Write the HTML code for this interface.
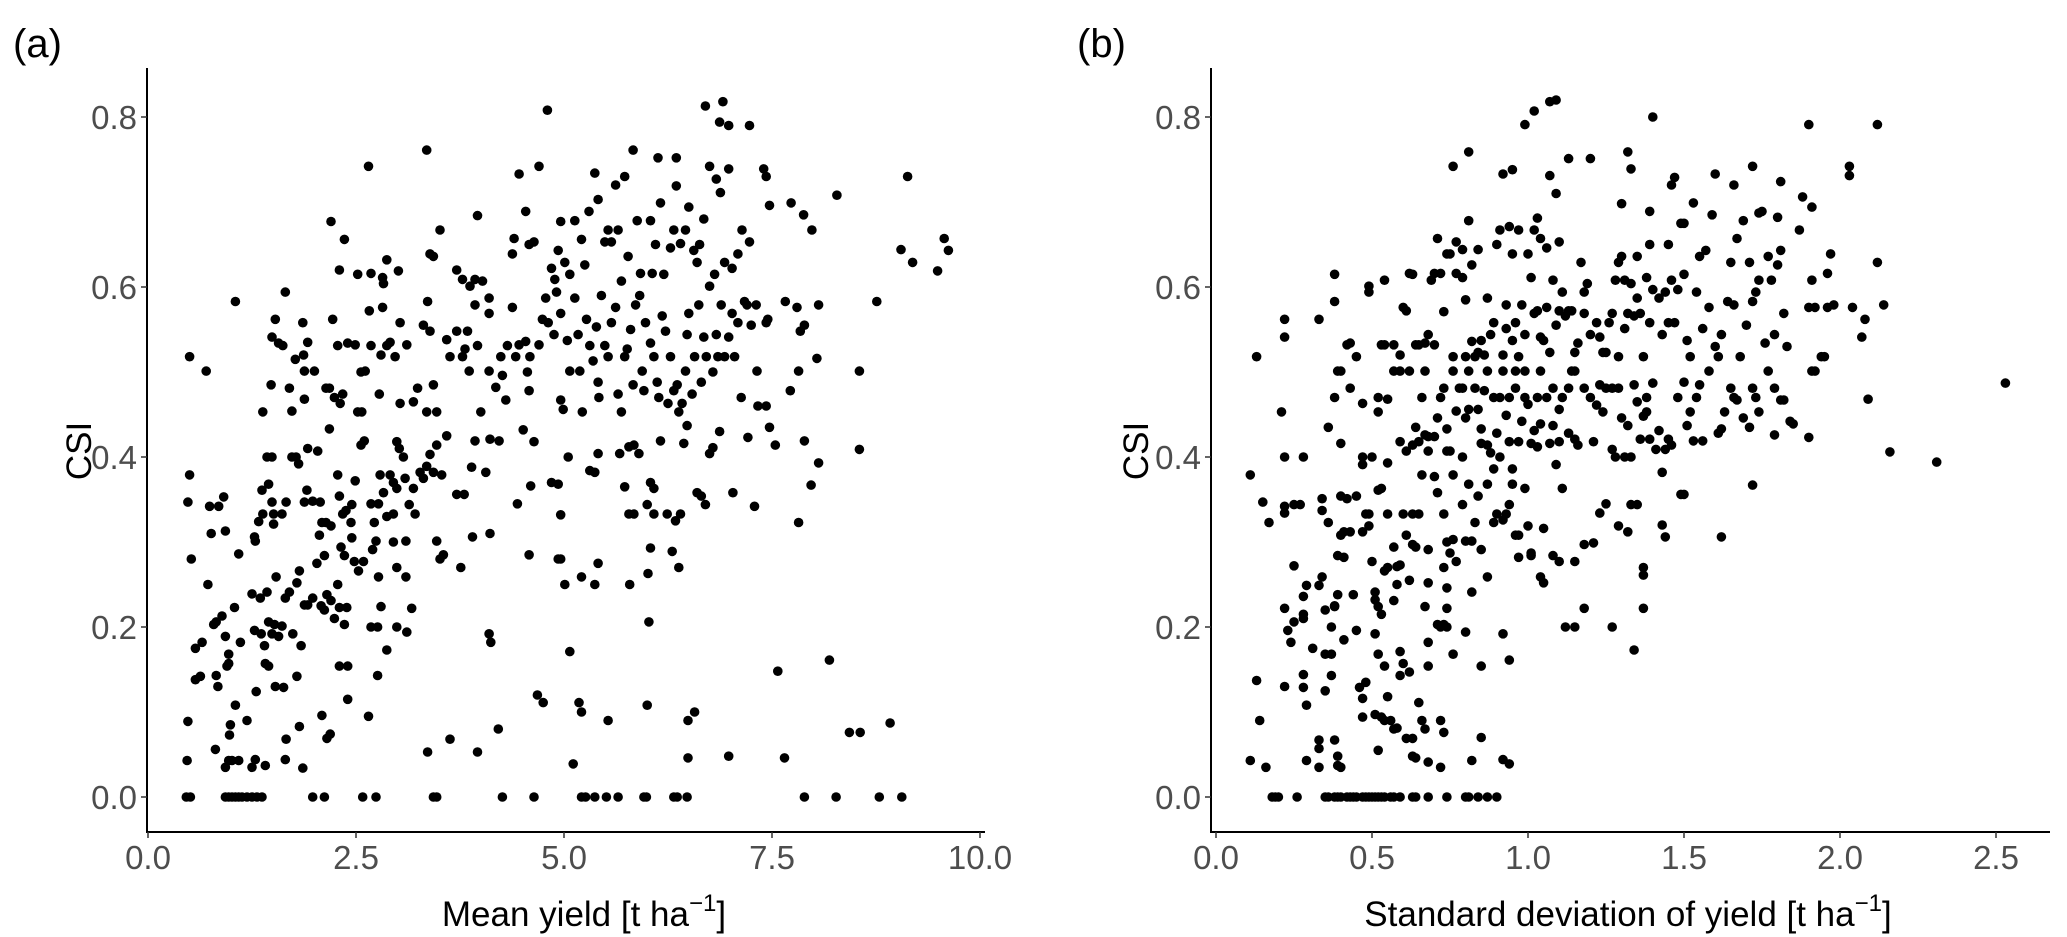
<!DOCTYPE html>
<html><head><meta charset="utf-8"><style>
html,body{margin:0;padding:0;background:#fff;}
svg{display:block;font-family:"Liberation Sans",Arial,sans-serif;}
.tick{fill:#4d4d4d;font-size:33px;}
.ttl{fill:#000;font-size:35px;}
</style></head><body>
<svg id="fig" width="2067" height="937" viewBox="0 0 2067 937" xmlns="http://www.w3.org/2000/svg"></svg>
<script>
const yTicks=[0,0.2,0.4,0.6,0.8];
const yTickLabels=["0.0","0.2","0.4","0.6","0.8"];
const aXTicks=[0,2.5,5,7.5,10];
const aXTickLabels=["0.0","2.5","5.0","7.5","10.0"];
const bXTicks=[0,0.5,1,1.5,2,2.5];
const bXTickLabels=["0.0","0.5","1.0","1.5","2.0","2.5"];
const aX=[0.46,0.51,0.93,0.97,1.01,1.05,1.09,1.13,1.19,1.25,1.31,1.37,1.98,2.12,2.58,2.74,3.43,3.47,4.26,4.64,5.21,5.26,5.37,5.51,5.65,5.96,5.99,6.32,6.36,6.48,7.89,8.27,8.79,9.06,
0.47,0.48,0.81,0.98,0.99,1.05,0.93,0.97,1.01,1.09,1.19,1.25,1.29,1.41,1.66,1.65,1.82,1.86,2.09,2.15,2.19,2.40,2.65,3.36,3.63,3.96,4.21,4.68,4.75,5.11,5.18,5.21,5.53,6.0,6.49,6.57,6.49,6.98,7.65,7.57,8.19,8.43,8.56,8.92,0.57,0.63,0.82,0.84,0.95,1.30,1.41,1.45,1.53,1.63,1.79,2.30,2.40,2.76,
0.52,0.57,0.65,0.72,0.79,0.82,0.89,0.93,0.97,0.97,1.04,1.09,1.11,1.25,1.28,1.35,1.36,1.40,1.43,1.45,1.49,1.52,1.54,1.57,1.61,1.65,1.70,1.74,1.79,1.82,1.84,1.88,1.92,1.98,2.03,2.08,2.12,2.15,2.20,2.24,2.30,2.36,2.39,2.32,2.28,2.36,2.48,2.53,2.59,2.45,2.70,2.80,2.87,2.76,2.68,2.99,3.11,3.17,3.10,2.99,3.10,2.95,2.77,2.74,3.47,3.51,3.76,3.90,4.11,4.10,4.12,4.58,4.96,5.01,5.07,5.21,5.37,5.41,5.79,6.01,6.04,6.02,6.30,6.38,4.93,3.55,
0.50,0.48,0.76,0.74,0.85,0.91,0.93,1.28,1.29,1.33,1.38,1.37,1.45,1.49,1.43,1.49,1.51,1.51,1.61,1.66,1.73,1.78,1.81,1.88,1.91,1.92,1.98,2.04,2.07,2.09,2.14,2.20,2.12,2.06,2.28,2.30,2.34,2.38,2.44,2.45,2.49,2.56,2.60,2.68,2.72,2.77,2.79,2.83,2.87,2.91,2.95,2.99,3.02,3.07,2.95,2.99,3.09,3.14,3.19,3.21,3.27,3.31,3.35,3.39,3.43,3.47,3.53,3.59,3.71,3.80,3.89,3.93,4.06,4.11,4.22,4.44,4.51,4.60,4.64,4.85,4.93,4.96,5.05,5.31,5.37,5.41,5.67,5.73,5.78,5.84,6.0,6.04,6.08,6.08,6.24,6.34,6.40,6.60,6.65,6.70,6.75,6.79,7.03,7.29,7.82,7.89,7.97,8.06,8.55,7.54,7.21,7.47,6.87,5.78,5.84,5.90,6.16,6.44,6.48,
0.50,0.70,1.05,1.38,1.48,1.49,1.53,1.57,1.62,1.65,1.70,1.73,1.77,1.87,1.86,1.88,1.92,1.88,2.0,2.14,2.18,2.18,2.22,2.24,2.28,2.31,2.34,2.40,2.49,2.52,2.56,2.57,2.61,2.66,2.68,2.78,2.80,2.82,2.87,2.91,2.97,3.03,3.03,3.11,3.19,3.24,3.31,3.36,3.35,3.39,3.43,3.47,3.59,3.63,3.71,3.78,3.81,3.84,3.86,3.93,3.96,4.00,4.10,4.10,4.18,4.24,4.26,4.30,4.32,4.38,4.42,4.46,4.54,4.56,4.58,4.59,4.70,4.74,4.78,4.81,4.88,4.91,4.96,4.96,4.99,5.04,5.07,5.13,5.17,5.19,5.22,5.27,5.31,5.35,5.39,5.41,5.42,5.49,5.53,5.57,5.62,5.65,5.69,5.73,5.76,5.80,5.83,5.86,5.91,5.94,5.96,5.98,6.04,6.08,6.12,6.14,6.18,6.22,6.25,6.28,6.32,6.36,6.38,6.42,6.46,6.48,6.50,6.54,6.57,6.62,6.65,6.68,6.71,6.75,6.79,6.83,6.85,6.89,6.93,6.98,7.02,7.05,7.09,7.13,7.17,7.20,7.25,7.31,7.32,7.33,7.43,7.45,7.43,7.66,7.72,7.80,7.84,7.89,7.82,8.04,8.06,8.55,8.76,
2.52,2.65,2.20,2.30,2.36,2.68,2.82,2.83,2.87,3.01,3.35,3.39,3.43,3.51,3.71,3.78,3.87,3.93,3.96,4.02,4.10,4.38,4.40,4.46,4.54,4.58,4.64,4.70,4.80,4.85,4.89,4.93,4.96,5.01,5.07,5.13,5.21,5.25,5.30,5.37,5.41,5.45,5.49,5.53,5.57,5.62,5.65,5.69,5.73,5.77,5.83,5.88,5.92,6.04,6.06,6.10,6.13,6.16,6.20,6.28,6.32,6.35,6.35,6.40,6.46,6.50,6.56,6.60,6.63,6.68,6.70,6.75,6.81,6.83,6.87,6.88,6.91,6.93,6.98,6.98,7.02,7.09,7.14,7.23,7.23,7.40,7.43,7.47,7.73,7.88,7.98,8.28,9.05,9.13,9.19,9.49,9.57,9.62];
const aY=[0,0,0,0,0,0,0,0,0,0,0,0,0,0,0,0,0,0,0,0,0,0,0,0,0,0,0,0,0,0,0,0,0,0,
0.043,0.089,0.056,0.073,0.085,0.108,0.035,0.043,0.043,0.043,0.09,0.035,0.044,0.037,0.068,0.044,0.083,0.034,0.096,0.069,0.074,0.115,0.095,0.053,0.068,0.053,0.08,0.12,0.111,0.039,0.111,0.1,0.09,0.108,0.09,0.1,0.046,0.048,0.046,0.148,0.161,0.076,0.076,0.087,0.138,0.142,0.143,0.13,0.154,0.124,0.157,0.154,0.13,0.129,0.142,0.154,0.154,0.143,
0.28,0.175,0.182,0.25,0.203,0.206,0.213,0.189,0.168,0.157,0.223,0.286,0.182,0.239,0.196,0.234,0.192,0.178,0.241,0.206,0.192,0.203,0.259,0.189,0.201,0.234,0.241,0.192,0.252,0.266,0.178,0.226,0.226,0.234,0.275,0.225,0.22,0.238,0.231,0.21,0.223,0.203,0.223,0.294,0.25,0.284,0.277,0.266,0.277,0.305,0.291,0.224,0.173,0.2,0.2,0.2,0.194,0.222,0.259,0.27,0.301,0.3,0.259,0.301,0.301,0.28,0.27,0.306,0.31,0.192,0.182,0.285,0.28,0.25,0.171,0.259,0.25,0.275,0.25,0.263,0.293,0.206,0.289,0.27,0.28,0.285,
0.379,0.347,0.31,0.342,0.342,0.353,0.313,0.306,0.301,0.324,0.333,0.361,0.368,0.347,0.4,0.4,0.333,0.321,0.333,0.347,0.4,0.4,0.392,0.347,0.361,0.41,0.348,0.407,0.347,0.323,0.323,0.319,0.284,0.308,0.379,0.354,0.333,0.337,0.323,0.344,0.372,0.414,0.419,0.345,0.323,0.345,0.379,0.358,0.33,0.379,0.37,0.418,0.41,0.4,0.333,0.363,0.375,0.344,0.363,0.333,0.382,0.375,0.389,0.403,0.382,0.414,0.379,0.425,0.356,0.356,0.388,0.419,0.382,0.421,0.419,0.345,0.432,0.366,0.418,0.37,0.368,0.332,0.4,0.384,0.382,0.404,0.404,0.365,0.333,0.333,0.344,0.37,0.363,0.333,0.333,0.325,0.333,0.358,0.354,0.344,0.404,0.411,0.358,0.342,0.323,0.419,0.367,0.393,0.409,0.414,0.423,0.435,0.43,0.412,0.414,0.404,0.419,0.416,0.437,
0.518,0.501,0.583,0.453,0.485,0.541,0.562,0.534,0.531,0.594,0.481,0.454,0.515,0.52,0.558,0.501,0.535,0.468,0.501,0.481,0.481,0.433,0.562,0.47,0.531,0.463,0.474,0.534,0.532,0.453,0.5,0.453,0.501,0.572,0.531,0.474,0.52,0.576,0.531,0.535,0.518,0.558,0.463,0.532,0.465,0.481,0.555,0.583,0.453,0.548,0.485,0.453,0.538,0.518,0.548,0.518,0.527,0.548,0.501,0.579,0.531,0.453,0.569,0.501,0.482,0.518,0.496,0.467,0.531,0.576,0.518,0.532,0.536,0.5,0.478,0.518,0.532,0.562,0.587,0.558,0.544,0.594,0.569,0.467,0.456,0.537,0.501,0.587,0.544,0.501,0.453,0.562,0.531,0.513,0.553,0.488,0.47,0.531,0.518,0.558,0.576,0.474,0.453,0.518,0.527,0.55,0.485,0.579,0.59,0.501,0.478,0.558,0.534,0.518,0.488,0.47,0.566,0.548,0.463,0.518,0.478,0.485,0.453,0.463,0.501,0.544,0.569,0.474,0.518,0.579,0.488,0.541,0.518,0.601,0.5,0.544,0.518,0.579,0.518,0.541,0.569,0.518,0.558,0.47,0.583,0.579,0.555,0.579,0.501,0.46,0.558,0.562,0.46,0.583,0.478,0.576,0.548,0.555,0.501,0.516,0.579,0.501,0.583,
0.615,0.742,0.677,0.62,0.656,0.616,0.611,0.604,0.632,0.619,0.761,0.639,0.636,0.667,0.62,0.609,0.601,0.609,0.684,0.607,0.587,0.639,0.657,0.733,0.689,0.65,0.653,0.742,0.808,0.622,0.609,0.643,0.677,0.629,0.615,0.678,0.656,0.626,0.689,0.734,0.703,0.59,0.653,0.667,0.653,0.72,0.667,0.607,0.73,0.636,0.761,0.678,0.616,0.678,0.616,0.65,0.752,0.699,0.615,0.646,0.667,0.752,0.719,0.651,0.667,0.694,0.643,0.629,0.65,0.68,0.813,0.742,0.615,0.727,0.794,0.711,0.818,0.629,0.79,0.739,0.622,0.639,0.667,0.79,0.653,0.739,0.73,0.696,0.699,0.685,0.667,0.708,0.644,0.73,0.629,0.619,0.657,0.643];
const bX=[0.18,0.19,0.20,0.26,0.35,0.36,0.38,0.39,0.40,0.42,0.43,0.44,0.45,0.47,0.48,0.49,0.50,0.51,0.52,0.53,0.54,0.56,0.57,0.59,0.63,0.64,0.68,0.74,0.80,0.81,0.84,0.87,0.90,
0.11,0.13,0.14,0.16,0.22,0.23,0.24,0.25,0.28,0.28,0.29,0.29,0.31,0.33,0.33,0.33,0.35,0.35,0.37,0.37,0.37,0.38,0.39,0.39,0.40,0.41,0.45,0.46,0.47,0.47,0.48,0.51,0.51,0.52,0.52,0.53,0.54,0.55,0.54,0.56,0.57,0.58,0.59,0.59,0.60,0.61,0.62,0.63,0.63,0.64,0.65,0.66,0.67,0.68,0.68,0.68,0.72,0.72,0.73,0.72,0.74,0.76,0.80,0.82,0.85,0.85,0.92,0.92,0.94,0.94,1.34,
0.15,0.17,0.22,0.22,0.22,0.25,0.25,0.27,0.28,0.29,0.28,0.28,0.33,0.34,0.34,0.34,0.35,0.36,0.38,0.38,0.39,0.39,0.40,0.41,0.41,0.40,0.42,0.43,0.44,0.45,0.47,0.48,0.49,0.49,0.50,0.51,0.51,0.52,0.53,0.52,0.53,0.54,0.55,0.55,0.57,0.57,0.58,0.58,0.59,0.60,0.61,0.62,0.63,0.63,0.64,0.65,0.66,0.67,0.68,0.68,0.70,0.71,0.71,0.73,0.73,0.73,0.74,0.74,0.74,0.75,0.76,0.76,0.77,0.79,0.80,0.81,0.82,0.82,0.83,0.84,0.85,0.87,0.87,0.89,0.90,0.92,0.93,0.94,0.95,0.96,0.97,0.97,0.99,1.0,1.01,1.01,1.04,1.05,1.05,1.08,1.10,1.11,1.12,1.15,1.15,1.18,1.18,1.21,1.23,1.25,1.27,1.29,1.32,1.33,1.35,1.37,1.37,1.37,1.43,1.44,1.49,1.50,1.62,1.72,
0.11,0.21,0.22,0.28,0.36,0.38,0.39,0.40,0.40,0.43,0.47,0.47,0.47,0.50,0.52,0.52,0.55,0.55,0.57,0.59,0.59,0.61,0.62,0.63,0.64,0.65,0.66,0.67,0.67,0.68,0.68,0.70,0.71,0.72,0.73,0.74,0.74,0.75,0.76,0.77,0.78,0.79,0.79,0.80,0.81,0.81,0.83,0.84,0.85,0.85,0.86,0.87,0.87,0.88,0.89,0.89,0.90,0.91,0.91,0.92,0.93,0.94,0.94,0.95,0.96,0.96,0.97,0.98,0.99,0.99,1.0,1.01,1.02,1.03,1.03,1.04,1.04,1.06,1.07,1.08,1.08,1.09,1.10,1.10,1.11,1.13,1.13,1.14,1.15,1.15,1.16,1.18,1.20,1.21,1.22,1.23,1.24,1.25,1.27,1.27,1.28,1.29,1.30,1.31,1.32,1.33,1.34,1.35,1.36,1.37,1.38,1.38,1.39,1.40,1.41,1.42,1.43,1.44,1.45,1.46,1.48,1.50,1.51,1.52,1.53,1.54,1.55,1.56,1.58,1.61,1.62,1.63,1.65,1.66,1.67,1.69,1.71,1.72,1.73,1.74,1.77,1.79,1.79,1.81,1.82,1.84,1.85,1.90,2.09,2.16,2.31,2.53,
0.13,0.22,0.22,0.33,0.38,0.38,0.42,0.43,0.45,0.49,0.49,0.53,0.54,0.54,0.57,0.59,0.60,0.61,0.62,0.63,0.64,0.65,0.67,0.68,0.69,0.70,0.70,0.71,0.72,0.73,0.74,0.75,0.76,0.77,0.77,0.79,0.79,0.80,0.80,0.81,0.82,0.82,0.83,0.84,0.84,0.85,0.86,0.87,0.88,0.89,0.90,0.91,0.92,0.93,0.93,0.94,0.95,0.95,0.96,0.97,0.97,0.98,0.99,1.0,1.01,1.02,1.02,1.03,1.03,1.04,1.04,1.05,1.06,1.06,1.07,1.08,1.09,1.10,1.10,1.11,1.12,1.13,1.14,1.15,1.16,1.17,1.18,1.18,1.19,1.20,1.22,1.23,1.24,1.25,1.26,1.27,1.28,1.29,1.29,1.30,1.31,1.31,1.32,1.33,1.34,1.35,1.35,1.36,1.37,1.38,1.39,1.39,1.40,1.42,1.43,1.44,1.45,1.45,1.46,1.47,1.48,1.50,1.50,1.51,1.52,1.53,1.54,1.55,1.56,1.57,1.58,1.59,1.60,1.61,1.62,1.64,1.65,1.66,1.67,1.68,1.69,1.70,1.71,1.72,1.73,1.74,1.75,1.76,1.77,1.78,1.79,1.80,1.81,1.82,1.83,1.90,1.91,1.92,1.91,1.92,1.94,1.95,1.96,1.97,1.96,1.98,2.04,2.07,2.08,2.12,2.14,
0.76,0.81,0.92,0.95,0.99,1.02,1.07,1.09,1.07,1.09,1.13,1.20,1.30,1.32,1.33,1.39,1.40,1.46,1.47,1.49,1.60,1.66,1.72,1.74,1.80,1.81,1.87,1.88,1.90,1.91,2.03,2.03,2.12];
const bY=[0,0,0,0,0,0,0,0,0,0,0,0,0,0,0,0,0,0,0,0,0,0,0,0,0,0,0,0,0,0,0,0,0,
0.043,0.137,0.09,0.035,0.13,0.196,0.182,0.206,0.144,0.129,0.108,0.043,0.175,0.067,0.057,0.035,0.125,0.168,0.143,0.168,0.2,0.067,0.048,0.037,0.035,0.185,0.196,0.129,0.116,0.094,0.135,0.192,0.097,0.055,0.168,0.094,0.09,0.118,0.154,0.09,0.08,0.081,0.171,0.143,0.157,0.069,0.147,0.069,0.048,0.046,0.111,0.09,0.08,0.182,0.154,0.041,0.09,0.035,0.076,0.2,0.2,0.168,0.194,0.043,0.154,0.07,0.192,0.044,0.039,0.161,0.173,
0.347,0.323,0.222,0.334,0.342,0.272,0.344,0.344,0.215,0.249,0.236,0.21,0.249,0.337,0.259,0.351,0.22,0.323,0.224,0.225,0.284,0.238,0.308,0.312,0.282,0.354,0.351,0.312,0.238,0.354,0.312,0.333,0.319,0.333,0.277,0.241,0.232,0.224,0.215,0.361,0.363,0.266,0.333,0.27,0.231,0.294,0.271,0.25,0.273,0.333,0.308,0.255,0.297,0.333,0.294,0.333,0.379,0.224,0.252,0.291,0.377,0.358,0.203,0.203,0.333,0.27,0.3,0.246,0.222,0.287,0.379,0.303,0.277,0.344,0.301,0.368,0.301,0.241,0.323,0.354,0.291,0.259,0.368,0.323,0.333,0.326,0.333,0.344,0.368,0.308,0.282,0.308,0.363,0.319,0.284,0.287,0.259,0.252,0.316,0.284,0.277,0.363,0.2,0.2,0.277,0.297,0.222,0.299,0.334,0.345,0.2,0.319,0.312,0.344,0.344,0.261,0.27,0.222,0.32,0.306,0.356,0.356,0.306,0.367,
0.379,0.453,0.4,0.4,0.435,0.47,0.501,0.416,0.501,0.481,0.463,0.4,0.391,0.4,0.47,0.453,0.468,0.393,0.501,0.501,0.418,0.407,0.501,0.414,0.435,0.418,0.47,0.501,0.426,0.407,0.424,0.424,0.446,0.47,0.481,0.433,0.407,0.407,0.501,0.454,0.481,0.481,0.4,0.446,0.501,0.456,0.481,0.456,0.433,0.416,0.478,0.501,0.414,0.405,0.386,0.47,0.428,0.4,0.47,0.501,0.449,0.418,0.47,0.386,0.501,0.481,0.418,0.442,0.47,0.501,0.462,0.416,0.431,0.47,0.412,0.501,0.439,0.47,0.416,0.437,0.481,0.391,0.418,0.456,0.47,0.481,0.428,0.501,0.421,0.501,0.414,0.481,0.47,0.418,0.461,0.485,0.453,0.481,0.409,0.481,0.4,0.481,0.446,0.4,0.437,0.4,0.485,0.465,0.421,0.448,0.453,0.47,0.421,0.487,0.409,0.431,0.382,0.409,0.421,0.414,0.47,0.488,0.437,0.453,0.419,0.47,0.485,0.419,0.501,0.428,0.433,0.453,0.481,0.47,0.467,0.446,0.435,0.481,0.47,0.453,0.501,0.481,0.426,0.467,0.467,0.442,0.439,0.423,0.468,0.406,0.394,0.487,
0.518,0.562,0.541,0.562,0.615,0.583,0.532,0.534,0.518,0.601,0.594,0.532,0.532,0.608,0.532,0.52,0.576,0.572,0.616,0.615,0.532,0.532,0.534,0.544,0.608,0.532,0.616,0.657,0.616,0.571,0.639,0.639,0.518,0.653,0.616,0.611,0.644,0.585,0.518,0.678,0.536,0.626,0.518,0.644,0.523,0.537,0.52,0.587,0.544,0.558,0.65,0.667,0.52,0.551,0.579,0.671,0.537,0.639,0.558,0.518,0.667,0.579,0.544,0.639,0.611,0.569,0.667,0.681,0.572,0.657,0.541,0.537,0.576,0.646,0.523,0.608,0.555,0.572,0.653,0.594,0.566,0.572,0.572,0.523,0.534,0.629,0.569,0.594,0.604,0.544,0.558,0.541,0.523,0.523,0.558,0.569,0.608,0.629,0.518,0.636,0.551,0.608,0.569,0.604,0.566,0.587,0.636,0.569,0.518,0.611,0.65,0.558,0.597,0.587,0.544,0.594,0.558,0.65,0.608,0.558,0.597,0.675,0.615,0.537,0.518,0.699,0.594,0.636,0.551,0.643,0.576,0.685,0.53,0.518,0.544,0.583,0.629,0.579,0.657,0.518,0.678,0.555,0.629,0.583,0.594,0.608,0.689,0.534,0.636,0.608,0.544,0.626,0.643,0.569,0.53,0.576,0.608,0.576,0.501,0.501,0.518,0.518,0.576,0.639,0.616,0.579,0.576,0.541,0.562,0.629,0.579,
0.742,0.759,0.733,0.738,0.791,0.807,0.818,0.82,0.731,0.71,0.751,0.751,0.698,0.759,0.739,0.689,0.8,0.72,0.729,0.675,0.733,0.72,0.742,0.687,0.682,0.724,0.667,0.706,0.791,0.694,0.742,0.731,0.791];

const NS="http://www.w3.org/2000/svg";
const svg=document.getElementById('fig');
function mk(tag,attrs,parent){const e=document.createElementNS(NS,tag);for(const k in attrs)e.setAttribute(k,attrs[k]);(parent||svg).appendChild(e);return e;}
const Y0=797, YPX=850, TOP=68, XAXIS=832;
function yS(v){return Y0-v*YPX;}

function panel(cfg){
  const g=mk('g',{});
  
  
  const xS=v=>cfg.x0+v*cfg.xpx;
  const pts=mk('g',{fill:'#000'},g);
  
  
  for(let i=0;i<cfg.xs.length;i++){
    const c=mk('circle',{cx:xS(cfg.xs[i]).toFixed(1),cy:yS(cfg.ys[i]).toFixed(1),r:4.8},pts);
    
    
  }
  const ya=mk('line',{x1:cfg.ax,y1:TOP,x2:cfg.ax,y2:XAXIS+1,stroke:'#000','stroke-width':2},g);
  
  
  const xa=mk('line',{x1:cfg.ax-1,y1:XAXIS,x2:cfg.xend,y2:XAXIS,stroke:'#000','stroke-width':2},g);
  
  
  yTicks.forEach((v,i)=>{
    const y=yS(v);
    mk('line',{x1:cfg.ax-6,y1:y,x2:cfg.ax,y2:y,stroke:'#333','stroke-width':1.5},g);
    const t=mk('text',{x:cfg.ax-10,y:y+12,'text-anchor':'end',class:'tick'},g);
    t.textContent=yTickLabels[i];
    
    
  });
  cfg.xt.forEach((v,i)=>{
    const x=xS(v);
    mk('line',{x1:x,y1:XAXIS,x2:x,y2:XAXIS+6,stroke:'#333','stroke-width':1.5},g);
    const t=mk('text',{x:x,y:869,'text-anchor':'middle',class:'tick'},g);
    t.textContent=cfg.xl[i];
    
    
  });
  const yt=mk('text',{x:0,y:0,'text-anchor':'middle',class:'ttl',transform:`translate(${cfg.ytx},451) rotate(-90)`},g);
  yt.textContent='CSI';
  
  
  const xt=mk('text',{x:cfg.xtx,y:926,'text-anchor':'middle',class:'ttl'},g);
  xt.innerHTML=cfg.xtitle+' [t ha<tspan dy="-15" font-size="24">−1</tspan><tspan dy="15">]</tspan>';
  
  
  const pl=mk('text',{x:cfg.plx,y:57,style:'font-size:40px;fill:#000'},g);
  pl.textContent=cfg.plabel;
  
  
}
panel({name:'panel-a',xs:aX,ys:aY,x0:148,xpx:83.2,ax:147,xend:985,xt:aXTicks,xl:aXTickLabels,ytx:91,xtx:584,xtitle:'Mean yield',plx:13,plabel:'(a)'});
panel({name:'panel-b',xs:bX,ys:bY,x0:1216,xpx:312,ax:1211,xend:2050,xt:bXTicks,xl:bXTickLabels,ytx:1148,xtx:1628,xtitle:'Standard deviation of yield',plx:1077,plabel:'(b)'});
</script>
</body></html>
